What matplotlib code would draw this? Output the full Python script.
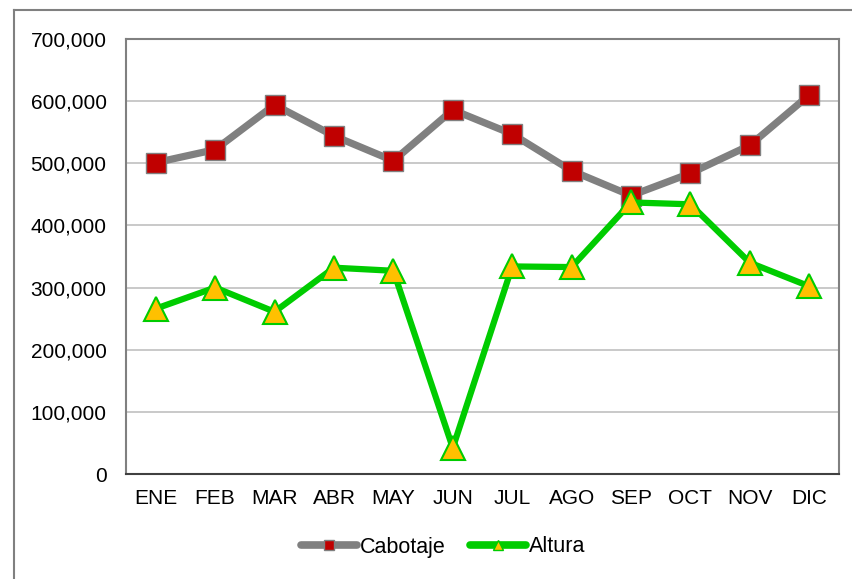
import matplotlib.pyplot as plt
from matplotlib.lines import Line2D
from matplotlib.ticker import FuncFormatter

plt.rcParams['font.family'] = ['Liberation Sans', 'DejaVu Sans']

# =========================
# Data
# =========================
months = ["ENE", "FEB", "MAR", "ABR", "MAY", "JUN",
          "JUL", "AGO", "SEP", "OCT", "NOV", "DIC"]
cabotaje = [501000, 522000, 594000, 544000, 504000, 586000,
            547000, 488000, 448000, 484000, 529000, 610000]
altura = [266000, 300000, 261000, 332000, 327000, 42000,
          334000, 333000, 437000, 434000, 340000, 302000]

W, H = 853, 579
fig = plt.figure(figsize=(W / 100, H / 100), dpi=100)

# outer chart border (only top and left visible)
fig.add_artist(Line2D([14 / W, 14 / W], [0, 1 - 10 / H], transform=fig.transFigure,
                      color="#808080", lw=1.5))
fig.add_artist(Line2D([14 / W, 1], [1 - 10 / H, 1 - 10 / H], transform=fig.transFigure,
                      color="#808080", lw=1.5))

ax = fig.add_axes([126 / W, 1 - 474 / H, (839 - 126) / W, (474 - 39) / H])

x = range(len(months))
ax.plot(x, cabotaje, color="#808080", lw=5.2, marker="s", markersize=14,
        markerfacecolor="#C00000", markeredgecolor="#808080", markeredgewidth=1,
        zorder=3)
ax.plot(x, altura, color="#00CC00", lw=4.5, marker="^", markersize=17,
        markerfacecolor="#FFC000", markeredgecolor="#00CC00", markeredgewidth=1.5,
        zorder=4)

ax.set_xlim(-0.5, len(months) - 0.5)
ax.set_ylim(0, 700000)
ax.set_yticks(range(0, 700001, 100000))
ax.yaxis.set_major_formatter(FuncFormatter(lambda v, p: f"{int(v):,}"))
ax.set_xticks(list(x))
ax.set_xticklabels(months)

ax.grid(axis="y", color="#C0C0C0", lw=1.2)
ax.set_axisbelow(True)
ax.tick_params(axis="both", length=0, labelsize=15)
ax.tick_params(axis="y", pad=14)
ax.tick_params(axis="x", pad=11)

for s in ["left", "top", "right"]:
    ax.spines[s].set_color("#808080")
    ax.spines[s].set_linewidth(1.5)
ax.spines["bottom"].set_color("#404040")
ax.spines["bottom"].set_linewidth(1.5)

handles = [
    Line2D([], [], color="#808080", lw=5.5, marker="s", markersize=7,
           markerfacecolor="#C00000", markeredgecolor="#808080",
           solid_capstyle="round"),
    Line2D([], [], color="#00CC00", lw=5.5, marker="^", markersize=7,
           markerfacecolor="#FFC000", markeredgecolor="#00CC00",
           solid_capstyle="round"),
]
fig.legend(handles, ["Cabotaje", "Altura"], loc="center", ncol=2,
           bbox_to_anchor=(443 / W, 1 - 547 / H), frameon=False,
           fontsize=15.5, handlelength=2.6, handletextpad=0.15, columnspacing=1.1)

fig.savefig("out.png", dpi=100)
